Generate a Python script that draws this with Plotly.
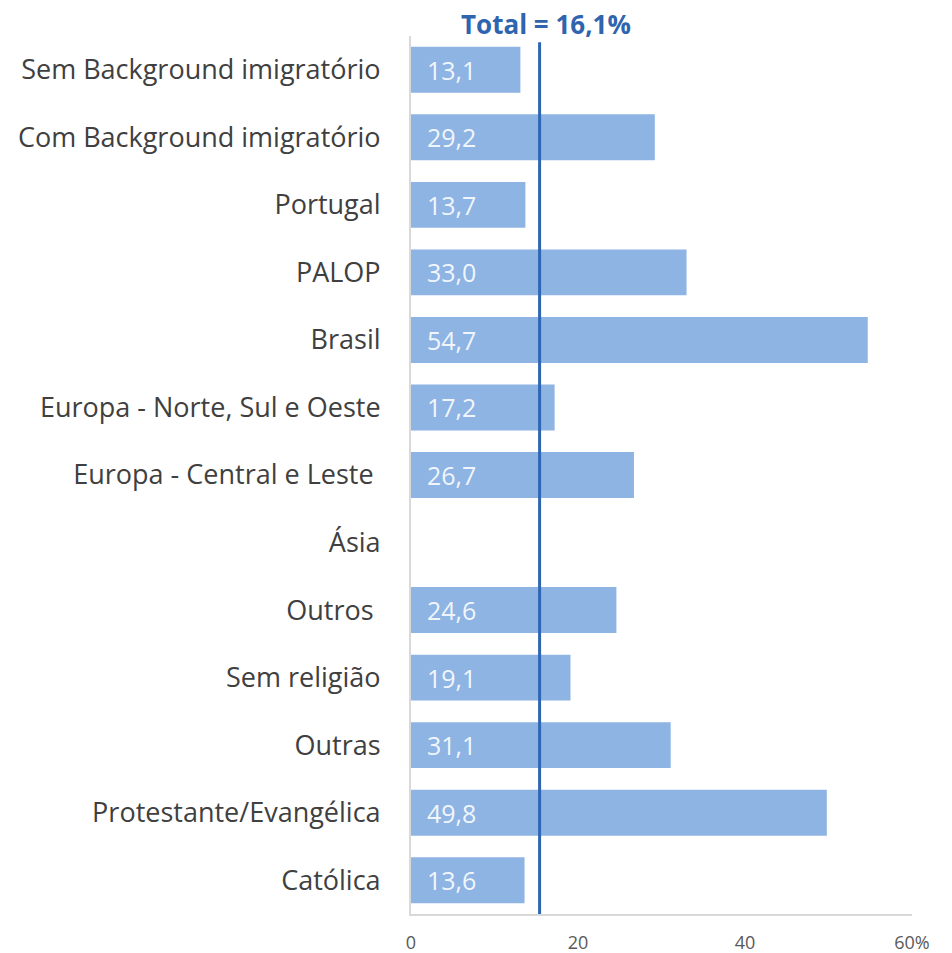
import plotly.graph_objects as go

categories = ["Sem Background imigratório", "Com Background imigratório", "Portugal", "PALOP",
              "Brasil", "Europa - Norte, Sul e Oeste", "Europa - Central e Leste ", "Ásia",
              "Outros ", "Sem religião", "Outras", "Protestante/Evangélica", "Católica"]
values = [13.1, 29.2, 13.7, 33.0, 54.7, 17.2, 26.7, None, 24.6, 19.1, 31.1, 49.8, 13.6]
total_label = "Total = 16,1%"
total_line = 15.4
x_tickvals = [0, 20, 40, 60]
x_ticktext = ["0", "20", "40", "60%"]

labels = ["\u00a0\u00a0" + (f"{v:.1f}".replace(".", ",") if v is not None else "") for v in values]

FONT = "Open Sans"

fig = go.Figure()
fig.add_trace(go.Bar(
    y=categories, x=values, orientation="h",
    marker=dict(color="#8EB4E3", line=dict(width=0)),
    width=0.68,
    text=labels, textposition="inside", insidetextanchor="start",
    textfont=dict(family=FONT, size=25, color="rgba(255,255,255,0.9)"),
    cliponaxis=False,
))
fig.add_shape(type="line", x0=total_line, x1=total_line, y0=0, y1=0.993, yref="paper",
              line=dict(color="#2F66B3", width=3))
fig.add_annotation(x=total_line, y=1, yref="paper", yanchor="middle", yshift=12, xshift=6,
                   text="<b>" + total_label + "</b>", showarrow=False,
                   font=dict(family=FONT, size=26, color="#2F64AE"))

fig.update_layout(
    width=944, height=945,
    margin=dict(l=403, r=40, t=28, b=39),
    paper_bgcolor="white", plot_bgcolor="white",
    showlegend=False,
)
fig.update_yaxes(
    autorange=False, categoryorder="array", categoryarray=categories,
    showline=True, linecolor="#D9D9D9", linewidth=2, showgrid=False,
    ticks="", ticklabelstandoff=23, automargin=False,
    tickfont=dict(family=FONT, size=27, color="#404040"),
    range=[12.5, -0.5],
)
fig.update_xaxes(
    range=[0, 60], tickvals=x_tickvals, ticktext=x_ticktext,
    showline=True, linecolor="#D9D9D9", linewidth=2, showgrid=False, zeroline=False,
    ticks="", ticklabelstandoff=11, automargin=False,
    tickfont=dict(family=FONT, size=18, color="#595959"),
)
fig.write_html("out.html")
